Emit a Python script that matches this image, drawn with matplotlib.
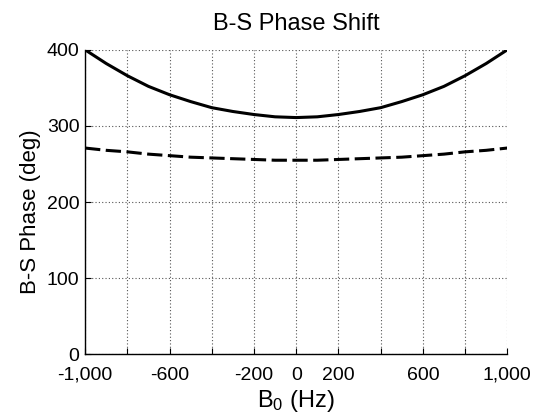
import matplotlib
matplotlib.use("Agg")
import matplotlib.pyplot as plt
import numpy as np

plt.rcParams['font.family'] = ['Liberation Sans', 'DejaVu Sans']
plt.rcParams['mathtext.fontset'] = 'custom'
plt.rcParams['mathtext.rm'] = 'Liberation Sans'
plt.rcParams['mathtext.it'] = 'Liberation Sans'

# B0 offset (Hz)
b0 = [-1000, -900, -800, -700, -600, -500, -400, -300, -200, -100, 0,
      100, 200, 300, 400, 500, 600, 700, 800, 900, 1000]
# phase shift, solid curve (deg)
phase_solid = [400, 382, 366, 352, 341, 332, 324, 319, 315, 312, 311,
               312, 315, 319, 324, 332, 341, 352, 366, 382, 400]
# phase shift, dashed curve (deg)
phase_dashed = [271, 268, 266, 263, 261, 259, 258, 257, 256, 255, 255,
                255, 256, 257, 258, 259, 261, 263, 266, 268, 271]

xticks = [-1000, -800, -600, -400, -200, 0, 200, 400, 600, 800, 1000]
xticklabels = ['-1,000', '', '-600', '', '-200', '0', '200', '', '600', '', '1,000']
yticks = [0, 100, 200, 300, 400]

fig = plt.figure(figsize=(5.42, 4.15), dpi=100)
ax = fig.add_axes([0.157, 0.146, 0.779, 0.734])

ax.plot(b0, phase_solid, color='black', lw=2.2, solid_capstyle='butt')
ax.plot(b0, phase_dashed, color='black', lw=2.2, dashes=(5, 1.8))

ax.set_xlim(-1000, 1000)
ax.set_ylim(0, 400)
ax.set_xticks(xticks)
ax.set_xticklabels(xticklabels)
ax.set_yticks(yticks)

ax.grid(True, linestyle=(0, (1, 2)), color='#555555', linewidth=0.8)
ax.spines['top'].set_visible(False)
ax.spines['right'].set_visible(False)
ax.spines['left'].set_linewidth(1.0)
ax.spines['bottom'].set_linewidth(1.0)
ax.tick_params(direction='in', length=4, width=0.8, labelsize=14)
ax.tick_params(axis='x', pad=9)
ax.tick_params(axis='y', pad=4)

ax.set_title('B-S Phase Shift', fontsize=17, pad=14)
ax.set_ylabel('B-S Phase (deg)', fontsize=16)
ax.yaxis.set_label_coords(-0.105, 0.47)
ax.set_xlabel(r'B$_{\mathrm{0}}$ (Hz)', fontsize=17, labelpad=3)

fig.savefig('out.png', dpi=100)
